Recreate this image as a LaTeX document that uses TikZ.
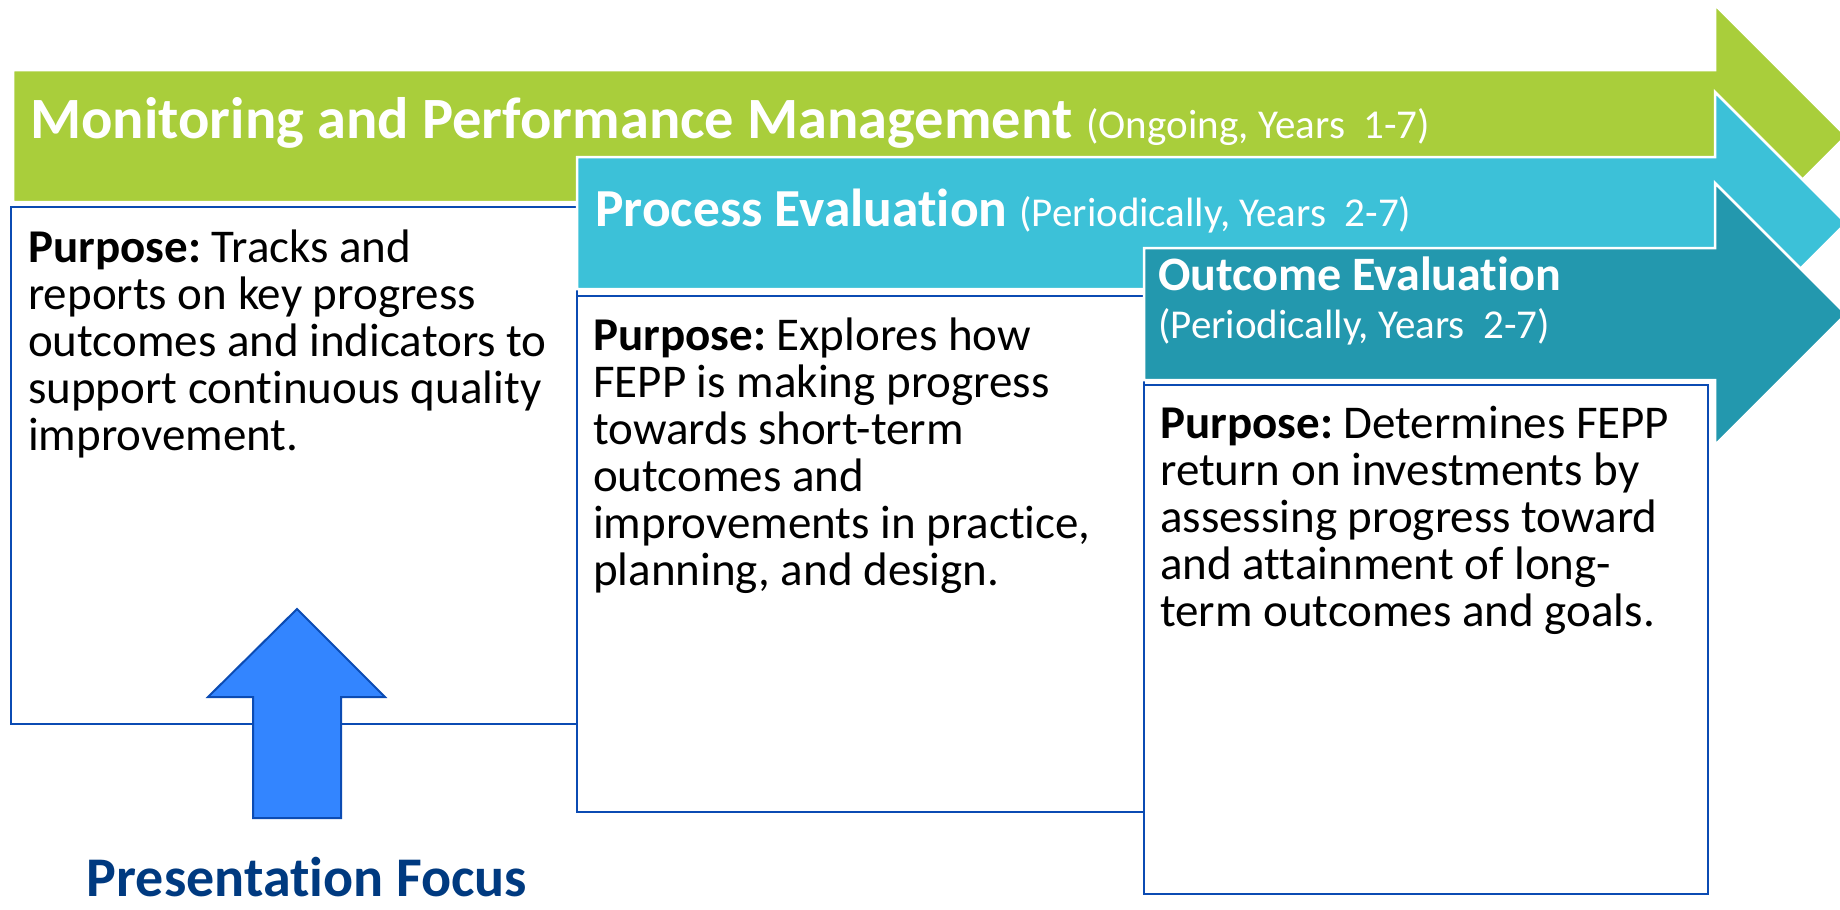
\documentclass[tikz,border=0pt]{standalone}
\usepackage{fontspec}
\setmainfont{Carlito}[Ligatures=NoCommon]
\frenchspacing
\definecolor{mgreen}{HTML}{A9CE3B}
\definecolor{mcyan}{HTML}{3CC1D8}
\definecolor{mteal}{HTML}{2398AE}
\definecolor{boxblue}{HTML}{0B4BB3}
\definecolor{upblue}{HTML}{3385FF}
\definecolor{navy}{HTML}{003A80}
\newcommand\bodytext[1]{\vtop{\hsize=600pt\raggedright\fontsize{47}{47}\selectfont\frenchspacing\noindent #1}}
\newcommand\bigb[2]{{\fontsize{#1}{#1}\selectfont\bfseries #2}}
\newcommand\smallr[1]{{\fontsize{41}{41}\selectfont #1}}
\tikzset{
  phase/.style={draw=white, line width=2.5pt, line join=miter},
  purposebox/.style={draw=boxblue, line width=2.5pt, fill=white},
  head/.style={anchor=base west, inner sep=0pt, text=white},
  body/.style={anchor=base west, inner sep=0pt, text=black},
}
\begin{document}
\begin{tikzpicture}[x=1pt,y=-1pt]
\useasboundingbox (0,0) rectangle (1840,910);
\fill[white] (0,0) rectangle (1840,910);
\clip (0,0) rectangle (1840,910);
% green arrow
\draw[phase, fill=mgreen] (13,70) -- (1715,70) -- (1715,5) -- (1846,136) -- (1715,267) -- (1715,202) -- (13,202) -- cycle;
\draw[purposebox] (11,207) rectangle (577,724);
% cyan arrow
\draw[phase, fill=mcyan] (577,157) -- (1715,157) -- (1715,92) -- (1846,223) -- (1715,354) -- (1715,289) -- (577,289) -- cycle;
\draw[purposebox] (577,296) rectangle (1144,812);
% teal arrow
\draw[phase, fill=mteal] (1144,248) -- (1715,248) -- (1715,183) -- (1846,314) -- (1715,445) -- (1715,380) -- (1144,380) -- cycle;
\draw[purposebox] (1144,385) rectangle (1708,894);
% up arrow
\draw[draw=boxblue, line width=2pt, fill=upblue, line join=miter] (297,609) -- (385,697) -- (341,697) -- (341,818) -- (253,818) -- (253,697) -- (208,697) -- cycle;
% headers
\node[head] (h1) at (30,138) {\bigb{58.5}{Monitoring and Performance Management}\hspace{14pt}\smallr{(Ongoing, Years\ \ 1-7)}};
\node[head] (h2) at (595,226) {\bigb{53.5}{Process Evaluation}\hspace{12pt}\smallr{(Periodically, Years\ \ 2-7)}};
\node[head] (h3a) at (1158,290) {\bigb{48}{Outcome Evaluation}};
\node[head] (h3b) at (1158,338) {\smallr{(Periodically, Years\ \ 2-7)}};
% bodies
\node[body] (b1) at (28,262) {\bodytext{\textbf{Purpose:} Tracks and\\reports on key progress\\outcomes and indicators to\\support continuous quality\\improvement.}};
\node[body] (b2) at (593,350) {\bodytext{\textbf{Purpose:} Explores how\\FEPP is making progress\\towards short-term\\outcomes and\\improvements in practice,\\planning, and design.}};
\node[body] (b3) at (1160,438) {\bodytext{\textbf{Purpose:} Determines FEPP\\return on investments by\\assessing progress toward\\and attainment of long-\\term outcomes and goals.}};
\node[anchor=base, inner sep=0pt, text=navy] (focus) at (307,896) {\bigb{56}{Presentation Focus}};
\end{tikzpicture}
\end{document}
